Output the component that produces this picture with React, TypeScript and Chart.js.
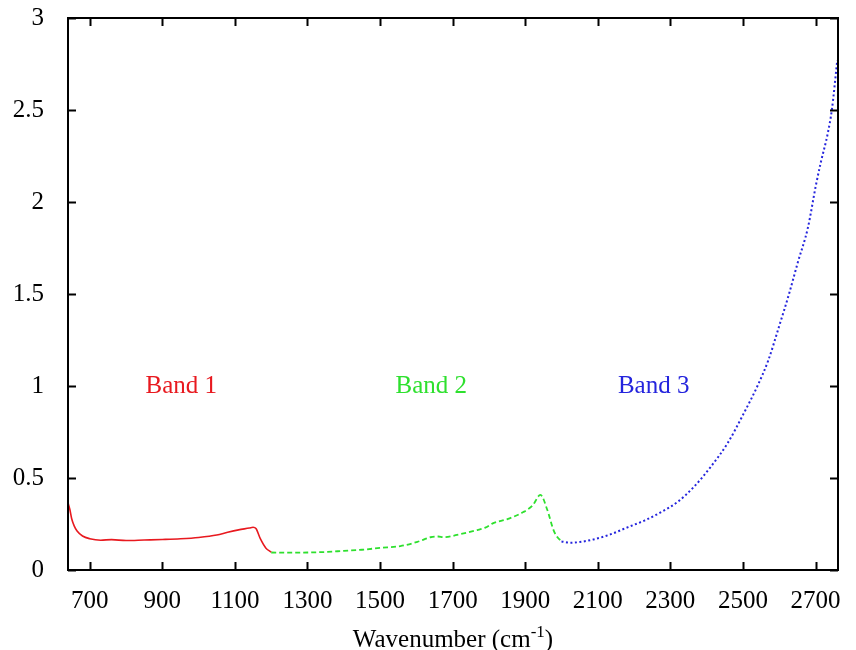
import React, { useEffect, useRef } from "react";
import { Chart, registerables } from "chart.js";

Chart.register(...registerables);

const X_TICKS = [700, 900, 1100, 1300, 1500, 1700, 1900, 2100, 2300, 2500, 2700];
const Y_TICKS = [0, 0.5, 1, 1.5, 2, 2.5, 3];
const X_MIN = 640;
const X_MAX = 2762;
const Y_MIN = 0;
const Y_MAX = 3;

const BAND1_WN = [640, 645, 650, 657, 665, 680, 700, 730, 760, 800, 850, 900, 950, 1000, 1050, 1080, 1110, 1140, 1150, 1158, 1170, 1185, 1200];
const BAND1_ABS = [0.365, 0.33, 0.28, 0.24, 0.212, 0.185, 0.17, 0.162, 0.165, 0.16, 0.163, 0.166, 0.17, 0.177, 0.19, 0.205, 0.218, 0.228, 0.232, 0.225, 0.17, 0.12, 0.097];

const BAND2_WN = [1200, 1250, 1300, 1350, 1400, 1450, 1500, 1556, 1603, 1639, 1660, 1675, 1721, 1768, 1790, 1812, 1851, 1895, 1920, 1942, 1961, 1978, 1990, 2000];
const BAND2_ABS = [0.095, 0.094, 0.095, 0.098, 0.104, 0.11, 0.12, 0.13, 0.153, 0.178, 0.182, 0.178, 0.195, 0.217, 0.23, 0.255, 0.277, 0.315, 0.35, 0.408, 0.326, 0.217, 0.175, 0.158];

const BAND3_WN = [2000, 2025, 2050, 2088, 2130, 2182, 2230, 2273, 2320, 2364, 2411, 2458, 2502, 2540, 2570, 2599, 2627, 2651, 2679, 2701, 2714, 2734, 2745, 2760];
const BAND3_ABS = [0.155, 0.148, 0.152, 0.166, 0.19, 0.232, 0.27, 0.313, 0.37, 0.45, 0.56, 0.69, 0.85, 1.0, 1.14, 1.32, 1.5, 1.67, 1.86, 2.09, 2.21, 2.375, 2.5, 2.77];

const BAND_NAMES = ["Band 1", "Band 2", "Band 3"];
const BAND_LABEL_WN = [952, 1641, 2254];
const BAND_LABEL_Y = [1.0, 1.0, 1.0];

const COLORS = ["#e8191f", "#2ee02e", "#2424dd"];
const FONT = "'Liberation Serif', 'DejaVu Serif', serif";

const toPoints = (xs: number[], ys: number[]) => xs.map((x, i) => ({ x, y: ys[i] }));

const framePlugin = {
  id: "frame",
  afterDatasetsDraw(chart: any) {
    const { ctx, chartArea } = chart;
    const xs = chart.scales.x;
    const ys = chart.scales.y;
    const { left, right, top, bottom } = chartArea;
    const tick = 8;
    ctx.save();
    ctx.strokeStyle = "#000";
    ctx.lineWidth = 2;
    ctx.strokeRect(left, top, right - left, bottom - top);
    ctx.beginPath();
    X_TICKS.forEach((v) => {
      const px = Math.round(xs.getPixelForValue(v)) + 0.5;
      ctx.moveTo(px, bottom);
      ctx.lineTo(px, bottom - tick);
      ctx.moveTo(px, top);
      ctx.lineTo(px, top + tick);
    });
    Y_TICKS.forEach((v) => {
      const py = Math.round(ys.getPixelForValue(v)) + 0.5;
      ctx.moveTo(left, py);
      ctx.lineTo(left + tick, py);
      ctx.moveTo(right, py);
      ctx.lineTo(right - tick, py);
    });
    ctx.stroke();

    // band labels
    ctx.font = `25px ${FONT}`;
    ctx.textAlign = "center";
    ctx.textBaseline = "middle";
    BAND_NAMES.forEach((name, i) => {
      ctx.fillStyle = COLORS[i];
      ctx.fillText(name, xs.getPixelForValue(BAND_LABEL_WN[i]), ys.getPixelForValue(BAND_LABEL_Y[i]));
    });

    // axis title with superscript
    const main = "Wavenumber (cm";
    const sup = "-1";
    const close = ")";
    ctx.fillStyle = "#000";
    ctx.textAlign = "left";
    ctx.textBaseline = "alphabetic";
    ctx.font = `25px ${FONT}`;
    const wMain = ctx.measureText(main).width;
    const wClose = ctx.measureText(close).width;
    ctx.font = `17px ${FONT}`;
    const wSup = ctx.measureText(sup).width;
    const total = wMain + wSup + wClose;
    const cx = (left + right) / 2;
    const baseY = 647;
    let x0 = cx - total / 2;
    ctx.font = `25px ${FONT}`;
    ctx.fillText(main, x0, baseY);
    x0 += wMain;
    ctx.font = `17px ${FONT}`;
    ctx.fillText(sup, x0, baseY - 10);
    x0 += wSup;
    ctx.font = `25px ${FONT}`;
    ctx.fillText(close, x0, baseY);
    ctx.restore();
  },
};

export default function App() {
  const ref = useRef<HTMLCanvasElement | null>(null);

  useEffect(() => {
    if (!ref.current) return;
    const chart = new Chart(ref.current, {
      type: "line",
      data: {
        datasets: [
          {
            label: "Band 1",
            data: toPoints(BAND1_WN, BAND1_ABS),
            borderColor: COLORS[0],
            borderWidth: 1.6,
            pointRadius: 0,
            cubicInterpolationMode: "monotone",
            fill: false,
          },
          {
            label: "Band 2",
            data: toPoints(BAND2_WN, BAND2_ABS),
            borderColor: COLORS[1],
            borderWidth: 1.8,
            borderDash: [5, 3],
            pointRadius: 0,
            cubicInterpolationMode: "monotone",
            fill: false,
          },
          {
            label: "Band 3",
            data: toPoints(BAND3_WN, BAND3_ABS),
            borderColor: COLORS[2],
            borderWidth: 2,
            borderDash: [2, 2.5],
            pointRadius: 0,
            cubicInterpolationMode: "monotone",
            fill: false,
          },
        ],
      },
      options: {
        animation: false,
        responsive: true,
        maintainAspectRatio: false,
        layout: { padding: { top: 18, right: 18, left: 0, bottom: 0 } },
        plugins: { legend: { display: false }, tooltip: { enabled: false } },
        scales: {
          x: {
            type: "linear",
            min: X_MIN,
            max: X_MAX,
            grid: { display: false },
            border: { display: false },
            ticks: {
              color: "#000",
              font: { family: FONT, size: 25 },
              padding: 8,
              maxRotation: 0,
              autoSkip: false,
              callback: (v: any) => String(v),
            },
            afterBuildTicks: (s: any) => {
              s.ticks = X_TICKS.map((v) => ({ value: v }));
            },
            afterFit: (s: any) => {
              s.height = 80;
              s.paddingLeft = 0;
              s.paddingRight = 0;
            },
          },
          y: {
            type: "linear",
            min: Y_MIN,
            max: Y_MAX,
            grid: { display: false },
            border: { display: false },
            ticks: {
              color: "#000",
              font: { family: FONT, size: 25 },
              padding: 16,
              autoSkip: false,
              callback: (v: any) => String(v),
            },
            afterBuildTicks: (s: any) => {
              s.ticks = Y_TICKS.map((v) => ({ value: v }));
            },
            afterFit: (s: any) => {
              s.width = 68;
              s.paddingTop = 0;
              s.paddingBottom = 0;
            },
          },
        },
      },
      plugins: [framePlugin],
    } as any);
    return () => chart.destroy();
  }, []);

  return (
    <div style={{ position: "absolute", left: 0, top: 0, width: 856, height: 650, background: "#fff" }}>
      <canvas ref={ref} />
    </div>
  );
}
